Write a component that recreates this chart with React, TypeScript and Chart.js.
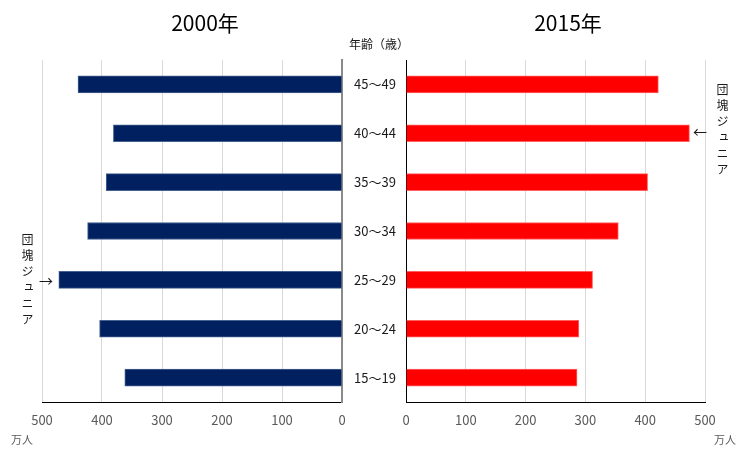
import React, { useEffect, useRef } from "react";
import { Chart, registerables } from "chart.js";

Chart.register(...registerables);

const ageGroups = ["45～49", "40～44", "35～39", "30～34", "25～29", "20～24", "15～19"];
const pop2000 = [440, 381, 393, 424, 472, 404, 362];
const pop2015 = [422, 474, 404, 355, 312, 289, 286];
const axisMin = 0;
const axisMax = 500;
const axisStep = 100;
const titles = ["2000年", "2015年"];
const unitLabel = "万人";
const ageAxisTitle = "年齢（歳）";
const noteText = "団塊ジュニア";

const FONT = '"Noto Sans CJK JP", "Noto Sans", sans-serif';
const W = 749;
const H = 449;

function makeOptions(side: "left" | "right"): any {
  const isLeft = side === "left";
  return {
    indexAxis: "y",
    animation: false,
    responsive: false,
    maintainAspectRatio: false,
    layout: {
      padding: isLeft
        ? { left: 42, right: 339, top: 60, bottom: 0 }
        : { left: 406, right: 44, top: 60, bottom: 0 },
    },
    plugins: {
      legend: { display: false },
      tooltip: { enabled: false },
      title: { display: false },
    },
    scales: {
      x: {
        reverse: isLeft,
        min: axisMin,
        max: axisMax,
        ticks: {
          stepSize: axisStep,
          color: "#595959",
          font: { size: 13, family: FONT },
          padding: 10,
          maxRotation: 0,
        },
        grid: { color: "#d9d9d9", lineWidth: 1, drawTicks: false },
        border: { display: true, color: "#000000", width: 1 },
        afterFit: (s: any) => {
          s.height = 47;
        },
      },
      y: {
        position: isLeft ? "right" : "left",
        grid: { display: false, drawTicks: false },
        border: isLeft
          ? { display: true, color: "#8a8a8a", width: 2 }
          : { display: true, color: "#000000", width: 1 },
        ticks: isLeft
          ? {
              display: true,
              padding: 12,
              color: "#1a1a1a",
              crossAlign: "near",
              font: { size: 13, family: FONT },
            }
          : { display: false },
        afterFit: (s: any) => {
          s.width = isLeft ? 68 : 0;
        },
      },
    },
  };
}

function useBarChart(
  ref: React.RefObject<HTMLCanvasElement | null>,
  side: "left" | "right",
  values: number[],
  color: string,
  edge: string
) {
  useEffect(() => {
    if (!ref.current) return;
    const chart = new Chart(ref.current, {
      type: "bar",
      data: {
        labels: ageGroups,
        datasets: [
          {
            data: values,
            backgroundColor: color,
            borderColor: edge,
            borderWidth: 1,
            barThickness: 17,
          },
        ],
      },
      options: makeOptions(side),
    } as any);
    return () => chart.destroy();
  }, []);
}

const abs = (s: React.CSSProperties): React.CSSProperties => ({
  position: "absolute",
  whiteSpace: "nowrap",
  fontFamily: FONT,
  ...s,
});

export default function App() {
  const leftRef = useRef<HTMLCanvasElement | null>(null);
  const rightRef = useRef<HTMLCanvasElement | null>(null);
  useBarChart(leftRef, "left", pop2000, "#002060", "#44618f");
  useBarChart(rightRef, "right", pop2015, "#ff0000", "#ff6060");

  return (
    <div
      style={{
        position: "absolute",
        left: 0,
        top: 0,
        width: W,
        height: H,
        background: "#ffffff",
        overflow: "hidden",
      }}
    >
      <canvas ref={leftRef} width={W} height={H} style={{ position: "absolute", left: 0, top: 0, width: W, height: H }} />
      <canvas ref={rightRef} width={W} height={H} style={{ position: "absolute", left: 0, top: 0, width: W, height: H }} />

      <div style={abs({ left: 145, width: 120, top: 7, fontSize: 21, lineHeight: "30px", textAlign: "center", color: "#000" })}>
        {titles[0]}
      </div>
      <div style={abs({ left: 508, width: 120, top: 7, fontSize: 21, lineHeight: "30px", textAlign: "center", color: "#000" })}>
        {titles[1]}
      </div>

      <div style={abs({ left: 344, width: 70, top: 35, fontSize: 12, lineHeight: "18px", textAlign: "center", color: "#1a1a1a" })}>
        {ageAxisTitle}
      </div>

      <div style={abs({ left: 0, width: 44, top: 431, fontSize: 11, lineHeight: "16px", textAlign: "center", color: "#595959" })}>
        {unitLabel}
      </div>
      <div style={abs({ left: 703, width: 44, top: 431, fontSize: 11, lineHeight: "16px", textAlign: "center", color: "#595959" })}>
        {unitLabel}
      </div>

      <div
        style={abs({
          left: 19,
          top: 233,
          fontSize: 12,
          lineHeight: "16px",
          writingMode: "vertical-rl",
          letterSpacing: "4px",
          color: "#1a1a1a",
        })}
      >
        {noteText}
      </div>
      <div style={abs({ left: 39, top: 270, fontSize: 14, lineHeight: "20px", color: "#1a1a1a" })}>→</div>

      <div
        style={abs({
          left: 714,
          top: 83,
          fontSize: 12,
          lineHeight: "16px",
          writingMode: "vertical-rl",
          letterSpacing: "4px",
          color: "#1a1a1a",
        })}
      >
        {noteText}
      </div>
      <div style={abs({ left: 693, top: 121, fontSize: 14, lineHeight: "20px", color: "#1a1a1a" })}>←</div>
    </div>
  );
}
